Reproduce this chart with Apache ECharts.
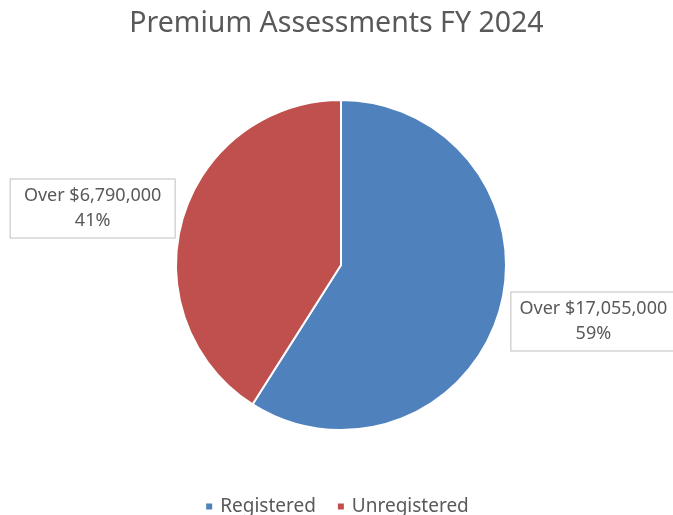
<!DOCTYPE html>
<html>
<head>
<meta charset="utf-8">
<script src="https://cdn.jsdelivr.net/npm/echarts@6/dist/echarts.min.js"></script>
<style>
  html, body { margin: 0; padding: 0; background: #fff; }
  #chartBox { width: 673px; height: 515px; }
</style>
</head>
<body>
<div id="chartBox"></div>
<script>
// categories and values
var categories = ['Registered', 'Unregistered'];
var shares = [59, 41];
var amounts = ['Over $17,055,000', 'Over $6,790,000'];
var colors = ['#4F81BD', '#C0504D'];

var myChart = echarts.init(document.getElementById('chartBox'));

var pieData = [];
for (var i = 0; i < categories.length; i++) {
    pieData.push({
        name: categories[i],
        value: shares[i],
        amount: amounts[i],
        itemStyle: { color: colors[i] }
    });
}

var option = {
    animation: false,
    title: {
        text: 'Premium Assessments FY 2024',
        left: 'center',
        top: 4,
        textStyle: {
            fontFamily: 'Noto Sans',
            fontSize: 28.5,
            fontWeight: 'normal',
            color: '#595959'
        }
    },
    legend: {
        bottom: -6,
        left: 'center',
        itemWidth: 8,
        itemHeight: 8,
        itemGap: 20,
        icon: 'rect',
        textStyle: {
            fontFamily: 'Noto Sans',
            fontSize: 19,
            color: '#595959',
            padding: [0, 0, 0, 2]
        },
        data: categories
    },
    series: [{
        type: 'pie',
        center: [341, 265],
        radius: [0, 165],
        startAngle: 90,
        clockwise: true,
        data: pieData,
        itemStyle: {
            borderColor: '#fff',
            borderWidth: 2
        },
        label: {
            show: true,
            position: 'outside',
            width: 150,
            overflow: 'none',
            formatter: function (p) {
                return '{t|' + p.data.amount + '}\n{t|' + p.value + '%}';
            },
            rich: {
                t: {
                    fontFamily: 'Noto Sans',
                    fontSize: 18,
                    lineHeight: 25,
                    color: '#595959',
                    width: 150,
                    align: 'center'
                }
            },
            backgroundColor: '#fff',
            borderColor: '#bfbfbf',
            borderWidth: 1,
            padding: [4, 7, 4, 7]
        },
        labelLine: {
            show: false,
            length: 2,
            length2: 5
        },
        // callout boxes sit a bit away from the slice middle, as in the original
        labelLayout: function (params) {
            return params.dataIndex === 0 ? { dy: 10 } : { dx: 4, dy: -10 };
        },
        emphasis: { disabled: true }
    }]
};

myChart.setOption(option);
window.addEventListener('resize', function () {
    myChart.resize();
});
</script>
</body>
</html>
